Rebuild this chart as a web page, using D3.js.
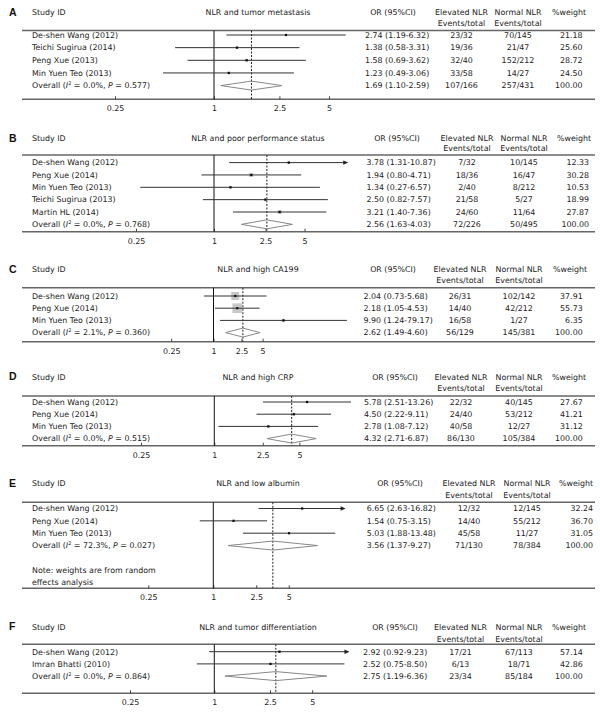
<!DOCTYPE html>
<html><head><meta charset="utf-8">
<script src="https://cdn.jsdelivr.net/npm/d3@7"></script>
<style>
body{margin:0;background:#fff}
svg text{font-family:"DejaVu Sans",Verdana,sans-serif;font-size:7.9px;fill:#222}
svg text.letter{font-family:"Liberation Sans",Arial,sans-serif;font-weight:bold;font-size:10.5px;fill:#111}
</style>
</head><body><svg id="c" width="600" height="713"></svg>
<script>
// ---------------- DATA ----------------
const panelLetters = ["A","B","C","D","E","F"];
const panelTitles = ["NLR and tumor metastasis","NLR and poor performance status","NLR and high CA199",
                     "NLR and high CRP","NLR and low albumin","NLR and tumor differentiation"];

const studiesA = ["De-shen Wang (2012)","Teichi Sugirua (2014)","Peng Xue (2013)","Min Yuen Teo (2013)"];
const orA = [2.74,1.38,1.58,1.23];
const lowA = [1.19,0.58,0.69,0.49];
const highA = [6.32,3.31,3.62,3.06];
const elevA = ["23/32","19/36","32/40","33/58"];
const normA = ["70/145","21/47","152/212","14/27"];
const weightA = [21.18,25.60,28.72,24.50];

const studiesB = ["De-shen Wang (2012)","Peng Xue (2014)","Min Yuen Teo (2013)","Teichi Sugirua (2013)","Martin HL (2014)"];
const orB = [3.78,1.94,1.34,2.50,3.21];
const lowB = [1.31,0.80,0.27,0.82,1.40];
const highB = [10.87,4.71,6.57,7.57,7.36];
const elevB = ["7/32","18/36","2/40","21/58","24/60"];
const normB = ["10/145","16/47","8/212","5/27","11/64"];
const weightB = [12.33,30.28,10.53,18.99,27.87];

const studiesC = ["De-shen Wang (2012)","Peng Xue (2014)","Min Yuen Teo (2013)"];
const orC = [2.04,2.18,9.90];
const lowC = [0.73,1.05,1.24];
const highC = [5.68,4.53,79.17];
const elevC = ["26/31","14/40","16/58"];
const normC = ["102/142","42/212","1/27"];
const weightC = [37.91,55.73,6.35];

const studiesD = ["De-shen Wang (2012)","Peng Xue (2014)","Min Yuen Teo (2013)"];
const orD = [5.78,4.50,2.78];
const lowD = [2.51,2.22,1.08];
const highD = [13.26,9.11,7.12];
const elevD = ["22/32","24/40","40/58"];
const normD = ["40/145","53/212","12/27"];
const weightD = [27.67,41.21,31.12];

const studiesE = ["De-shen Wang (2012)","Peng Xue (2014)","Min Yuen Teo (2013)"];
const orE = [6.65,1.54,5.03];
const lowE = [2.63,0.75,1.88];
const highE = [16.82,3.15,13.48];
const elevE = ["12/32","14/40","45/58"];
const normE = ["12/145","55/212","11/27"];
const weightE = [32.24,36.70,31.05];

const studiesF = ["De-shen Wang (2012)","Imran Bhatti (2010)"];
const orF = [2.92,2.52];
const lowF = [0.92,0.75];
const highF = [9.23,8.50];
const elevF = ["17/21","6/13"];
const normF = ["67/113","18/71"];
const weightF = [57.14,42.86];

const overallOR = [1.69,2.56,2.62,4.32,3.56,2.75];
const overallLow = [1.10,1.63,1.49,2.71,1.37,1.19];
const overallHigh = [2.59,4.03,4.60,6.87,9.27,6.36];
const overallI2 = ["0.0","0.0","2.1","0.0","72.3","0.0"];
const overallP = ["0.577","0.768","0.360","0.515","0.027","0.864"];
const overallElev = ["107/166","72/226","56/129","86/130","71/130","23/34"];
const overallNorm = ["257/431","50/495","145/381","105/384","78/384","85/184"];
const overallWeight = [100,100,100,100,100,100];

const axisMaxCI = [7,10,80,14,15,9];   // CIs beyond this are shown with an arrow
const tickValues = [0.25,1,2.5,5];
const tickLabels = ["0.25","1","2.5","5"];
const noteE = ["Note: weights are from random","effects analysis"];

// ---------------- LAYOUT ----------------
const layout = [
 {top:30.5, bottom:99.3, h1:12.5, h2:23.3, row0:35,   step:12.65, x025:115,   x1:214,   orX:365,   orH:393,   elC:461.5, nmC:518, wtR:582.5, wtH:569, boxK:0.5},
 {top:155,  bottom:231.7,h1:138.3,h2:148.5,row0:162.6,step:12.35, x025:136,   x1:214,   orX:366.5, orH:397,   elC:467,   nmC:524, wtR:589,   wtH:574, boxK:0.75},
 {top:287.7,bottom:341.7,h1:269,  h2:280,  row0:296,  step:12.2,  x025:171.2, x1:213.5, orX:363.5, orH:393,   elC:460,   nmC:519, wtR:582.7, wtH:570, boxK:1.3},
 {top:396,  bottom:445.7,h1:376.7,h2:388.3,row0:402,  step:12.2,  x025:141,   x1:214.3, orX:364,   orH:395,   elC:461,   nmC:519, wtR:582.7, wtH:569, boxK:0.45},
 {top:502.3,bottom:588.3,h1:483.3,h2:495,  row0:508.5,step:12.35, x025:148.3, x1:213.3, orX:366.7, orH:400,   elC:469,   nmC:527, wtR:593,   wtH:576, boxK:0.4},
 {top:644.3,bottom:693.3,h1:626.7,h2:639.3,row0:651.7,step:12.2,  x025:130,   x1:214.3, orX:363,   orH:395,   elC:460.5, nmC:519, wtR:582.7, wtH:569, boxK:0.35}
];

const panels = [
 {studies:studiesA, or:orA, low:lowA, high:highA, elev:elevA, norm:normA, weight:weightA},
 {studies:studiesB, or:orB, low:lowB, high:highB, elev:elevB, norm:normB, weight:weightB},
 {studies:studiesC, or:orC, low:lowC, high:highC, elev:elevC, norm:normC, weight:weightC},
 {studies:studiesD, or:orD, low:lowD, high:highD, elev:elevD, norm:normD, weight:weightD},
 {studies:studiesE, or:orE, low:lowE, high:highE, elev:elevE, norm:normE, weight:weightE},
 {studies:studiesF, or:orF, low:lowF, high:highF, elev:elevF, norm:normF, weight:weightF}
];

const svg = d3.select("#c");
const fmt = d3.format(".2f");
const ruleL = 22, ruleR = 595, nameX = 32, titleC = 258;

panels.forEach((pd, p) => {
  const L = layout[p];
  const g = svg.append("g");
  const x = d3.scaleLog().domain([0.25, 1]).range([L.x025, L.x1]);
  const rowY = i => L.row0 + i * L.step;
  const n = pd.studies.length;

  // headers
  g.append("text").attr("class","letter").attr("x",9).attr("y",L.h1).attr("dy","0.36em").text(panelLetters[p]);
  g.append("text").attr("x",nameX).attr("y",L.h1).attr("dy","0.36em").text("Study ID");
  g.append("text").attr("x",titleC).attr("y",L.h1).attr("dy","0.36em").attr("text-anchor","middle").text(panelTitles[p]);
  g.append("text").attr("x",L.orH).attr("y",L.h1).attr("dy","0.36em").attr("text-anchor","middle").text("OR (95%CI)");
  g.append("text").attr("x",L.elC).attr("y",L.h1).attr("dy","0.36em").attr("text-anchor","middle").text("Elevated NLR");
  g.append("text").attr("x",L.elC).attr("y",L.h2).attr("dy","0.36em").attr("text-anchor","middle").text("Events/total");
  g.append("text").attr("x",L.nmC).attr("y",L.h1).attr("dy","0.36em").attr("text-anchor","middle").text("Normal NLR");
  g.append("text").attr("x",L.nmC).attr("y",L.h2).attr("dy","0.36em").attr("text-anchor","middle").text("Events/total");
  g.append("text").attr("x",L.wtH).attr("y",L.h1).attr("dy","0.36em").attr("text-anchor","middle").text("%weight");

  // rules
  [L.top, L.bottom].forEach(y => g.append("line").attr("x1",ruleL).attr("x2",ruleR).attr("y1",y).attr("y2",y)
      .attr("stroke","#666").attr("stroke-width",1.4));

  // axis ticks + labels
  const ax = g.append("g").attr("transform",`translate(0,${L.bottom})`).style("color","#444")
    .call(d3.axisBottom(x).tickValues(tickValues).tickFormat((d,i)=>tickLabels[i]).tickSize(-3).tickPadding(6.5));
  ax.select(".domain").remove();
  ax.attr("font-size",null).attr("font-family",null);

  // null line and overall dashed line
  g.append("line").attr("x1",x(1)).attr("x2",x(1)).attr("y1",L.top).attr("y2",L.bottom).attr("stroke","#111").attr("stroke-width",1);
  g.append("line").attr("x1",x(overallOR[p])).attr("x2",x(overallOR[p])).attr("y1",L.top).attr("y2",L.bottom)
    .attr("stroke","#222").attr("stroke-width",1).attr("stroke-dasharray","2,1.5");

  // study rows
  pd.studies.forEach((s, i) => {
    const y = rowY(i);
    g.append("text").attr("x",nameX).attr("y",y).attr("dy","0.36em").text(s);
    const side = L.boxK * Math.sqrt(pd.weight[i]);
    g.append("rect").attr("x",x(pd.or[i]) - side/2).attr("y",y - side/2).attr("width",side).attr("height",side)
      .attr("fill","#c8c8c8");
    const arrow = pd.high[i] > axisMaxCI[p];
    const xe = x(pd.high[i]);
    g.append("line").attr("x1",x(pd.low[i])).attr("x2",arrow ? xe - 4 : xe).attr("y1",y).attr("y2",y)
      .attr("stroke","#333").attr("stroke-width",1);
    if (arrow) {
      g.append("path").attr("d",`M${xe},${y}L${xe-5},${y-2.2}L${xe-5},${y+2.2}Z`).attr("fill","#222");
    }
    g.append("rect").attr("x",x(pd.or[i]) - 1.1).attr("y",y - 1.1).attr("width",2.2).attr("height",2.2).attr("fill","#111");
    g.append("text").attr("x",L.orX).attr("y",y).attr("dy","0.36em")
      .text(`${fmt(pd.or[i])} (${fmt(pd.low[i])}-${fmt(pd.high[i])})`);
    g.append("text").attr("x",L.elC).attr("y",y).attr("dy","0.36em").attr("text-anchor","middle").text(pd.elev[i]);
    g.append("text").attr("x",L.nmC).attr("y",y).attr("dy","0.36em").attr("text-anchor","middle").text(pd.norm[i]);
    g.append("text").attr("x",L.wtR).attr("y",y).attr("dy","0.36em").attr("text-anchor","end").text(fmt(pd.weight[i]));
  });

  // overall row
  const yo = rowY(n);
  const t = g.append("text").attr("x",nameX).attr("y",yo).attr("dy","0.36em");
  t.append("tspan").text("Overall (");
  t.append("tspan").attr("font-style","italic").text("I");
  t.append("tspan").style("font-size","5px").attr("dy","-3").text("2");
  t.append("tspan").attr("dy","3").text(` = ${overallI2[p]}%, `);
  t.append("tspan").attr("font-style","italic").text("P");
  t.append("tspan").text(` = ${overallP[p]})`);
  const dx0 = x(overallLow[p]), dx1 = x(overallHigh[p]), dxm = x(overallOR[p]);
  g.append("path").attr("d",`M${dx0},${yo}L${dxm},${yo-4.5}L${dx1},${yo}L${dxm},${yo+4.5}Z`)
    .attr("fill","none").attr("stroke","#888").attr("stroke-width",1);
  g.append("text").attr("x",L.orX).attr("y",yo).attr("dy","0.36em")
    .text(`${fmt(overallOR[p])} (${fmt(overallLow[p])}-${fmt(overallHigh[p])})`);
  g.append("text").attr("x",L.elC).attr("y",yo).attr("dy","0.36em").attr("text-anchor","middle").text(overallElev[p]);
  g.append("text").attr("x",L.nmC).attr("y",yo).attr("dy","0.36em").attr("text-anchor","middle").text(overallNorm[p]);
  g.append("text").attr("x",L.wtR).attr("y",yo).attr("dy","0.36em").attr("text-anchor","end").text(fmt(overallWeight[p]));

  if (p === 4) {
    noteE.forEach((line, k) => g.append("text").attr("x",nameX).attr("y",rowY(n + 2 + k)).attr("dy","0.36em").text(line));
  }
});
</script>
</body></html>
